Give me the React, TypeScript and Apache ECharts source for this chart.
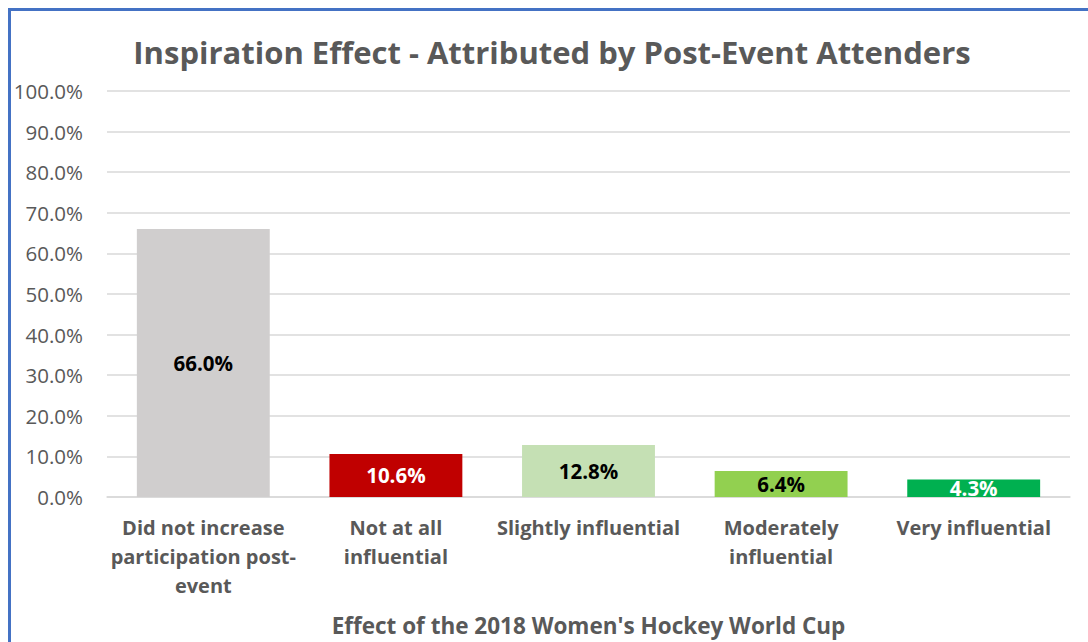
import React, { useEffect, useRef } from "react";
import * as echarts from "echarts";

const titleText = "Inspiration Effect - Attributed by Post-Event Attenders";
const axisTitle = "Effect of the 2018 Women's Hockey World Cup";
const categories = [
  "Did not increase\nparticipation post-\nevent",
  "Not at all\ninfluential",
  "Slightly influential",
  "Moderately\ninfluential",
  "Very influential",
];
const values = [66.0, 10.6, 12.8, 6.4, 4.3];
const barColors = ["#D0CECE", "#C00000", "#C5E0B4", "#92D050", "#00B050"];
const labelColors = ["#000000", "#FFFFFF", "#000000", "#000000", "#FFFFFF"];

const FONT = "Open Sans";

export default function App() {
  const ref = useRef<HTMLDivElement>(null);
  useEffect(() => {
    if (!ref.current) return;
    const chart = echarts.init(ref.current, null, { renderer: "svg" });
    chart.setOption({
      animation: false,
      backgroundColor: "#FFFFFF",
      title: {
        text: titleText,
        left: 547,
        top: 31,
        textAlign: "center",
        textStyle: { fontFamily: FONT, fontSize: 31, fontWeight: "bold", color: "#595959" },
      },
      grid: { left: 107, right: 18, top: 91, bottom: 145, containLabel: false },
      xAxis: {
        type: "category",
        data: categories,
        axisLine: { show: true, lineStyle: { color: "#D9D9D9", width: 1.5 } },
        axisTick: { show: false },
        axisLabel: {
          interval: 0,
          margin: 16,
          fontFamily: FONT,
          fontSize: 20,
          fontWeight: "bold",
          color: "#595959",
          lineHeight: 29,
        },
        name: axisTitle,
        nameLocation: "middle",
        nameGap: 117,
        nameTextStyle: { fontFamily: FONT, fontSize: 22.5, fontWeight: "bold", color: "#595959" },
      },
      yAxis: {
        type: "value",
        min: 0,
        max: 100,
        interval: 10,
        axisLine: { show: false },
        axisTick: { show: false },
        splitLine: { lineStyle: { color: "#D9D9D9", width: 1.5 } },
        axisLabel: {
          margin: 24,
          fontFamily: FONT,
          fontSize: 20.5,
          color: "#595959",
          formatter: (v: number) => v.toFixed(1) + "%",
        },
      },
      series: [
        {
          type: "bar",
          barWidth: "69%",
          data: values.map((v, i) => ({
            value: v,
            itemStyle: { color: barColors[i] },
            label: { color: labelColors[i] },
          })),
          label: {
            show: true,
            position: "inside",
            fontFamily: FONT,
            fontSize: 20.5,
            fontWeight: "bold",
            formatter: (p: any) => p.value.toFixed(1) + "%",
          },
        },
      ],
    });
    return () => chart.dispose();
  }, []);
  return (
    <>
      <div
        ref={ref}
        style={{ position: "fixed", left: 0, top: 0, width: 1088, height: 642 }}
      />
      <div
        style={{
          position: "fixed",
          left: 8,
          top: 8,
          width: 1080,
          height: 634,
          boxSizing: "border-box",
          borderTop: "3px solid #4472C4",
          borderLeft: "3px solid #4472C4",
          pointerEvents: "none",
        }}
      />
    </>
  );
}
